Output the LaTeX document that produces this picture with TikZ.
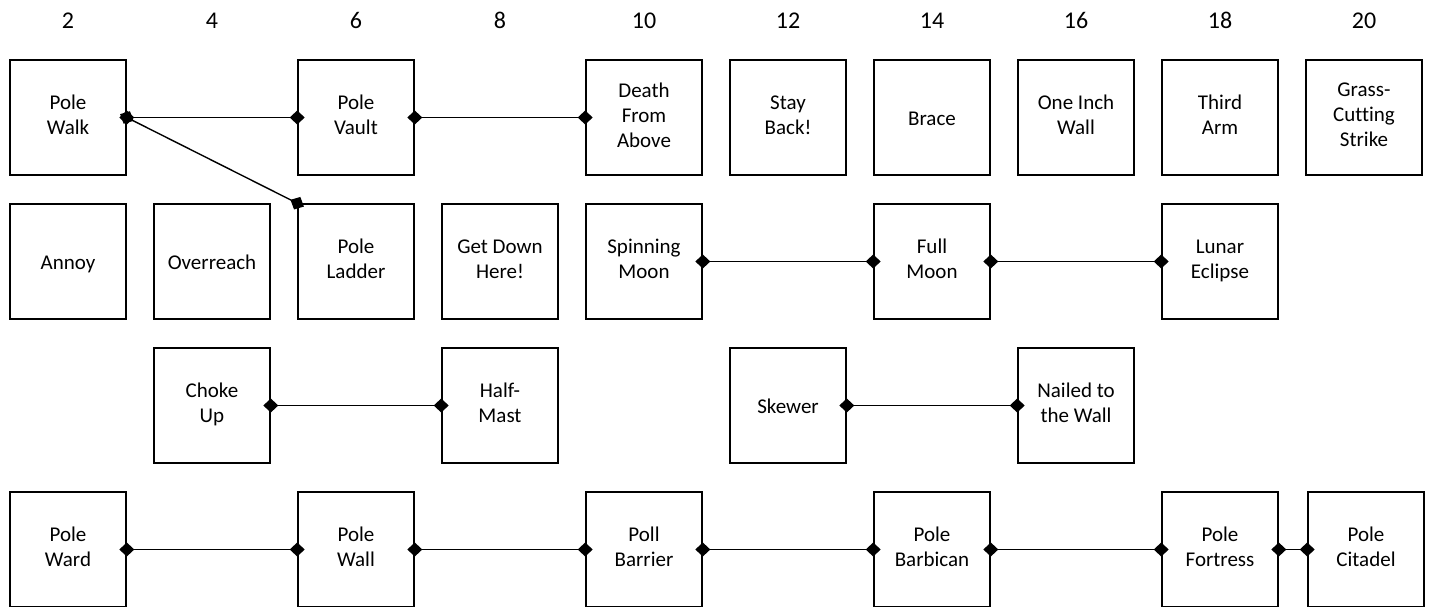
\documentclass[tikz,border=0pt]{standalone}
\usepackage{fontspec}
\setmainfont[Ligatures=NoCommon]{Carlito}
\usetikzlibrary{arrows.meta}
\tikzset{
  box/.style={draw=black, line width=1.6pt, minimum width=116pt, minimum height=115pt,
    inner sep=2pt, align=center, font=\fontsize{21}{25}\selectfont,
    execute at begin node={\rule{0pt}{20pt}}, execute at end node={\rule[-5pt]{0pt}{5pt}}},
  colnum/.style={font=\fontsize{24}{28}\selectfont, inner sep=0pt, anchor=base},
  link/.style={line width=1.4pt, {Diamond[length=15pt,width=14pt]}-{Diamond[length=15pt,width=14pt]},
    shorten <=-7.5pt, shorten >=-7.5pt}
}
\begin{document}
\begin{tikzpicture}[x=1pt,y=-1pt]
\useasboundingbox (0,0) rectangle (1429,607);
% column numbers
\foreach \k [count=\i from 0] in {2,4,...,20}
  \node[colnum, name=n\k] at (68+144*\i, 29) {\k};
% row 1
\node[box] (walk)   at (68,117.5)   {Pole\\Walk};
\node[box] (vault)  at (356,117.5)  {Pole\\Vault};
\node[box] (death)  at (644,117.5)  {Death\\From\\Above};
\node[box] (stay)   at (788,117.5)  {Stay\\Back!};
\node[box] (brace)  at (932,117.5)  {Brace};
\node[box] (inch)   at (1076,117.5) {One Inch\\Wall};
\node[box] (third)  at (1220,117.5) {Third\\Arm};
\node[box] (grass)  at (1364,117.5) {Grass-\\Cutting\\Strike};
% row 2
\node[box] (annoy)  at (68,261.5)   {Annoy};
\node[box] (over)   at (212,261.5)  {Overreach};
\node[box] (ladder) at (356,261.5)  {Pole\\Ladder};
\node[box] (getdown) at (500,261.5) {Get Down\\Here!};
\node[box] (spin)   at (644,261.5)  {Spinning\\Moon};
\node[box] (full)   at (932,261.5)  {Full\\Moon};
\node[box] (lunar)  at (1220,261.5) {Lunar\\Eclipse};
% row 3
\node[box] (choke)  at (212,405.5)  {Choke\\Up};
\node[box] (half)   at (500,405.5)  {Half-\\Mast};
\node[box] (skewer) at (788,405.5)  {Skewer};
\node[box] (nailed) at (1076,405.5) {Nailed to\\the Wall};
% row 4
\node[box] (ward)     at (68,549.5)   {Pole\\Ward};
\node[box] (wall)     at (356,549.5)  {Pole\\Wall};
\node[box] (barrier)  at (644,549.5)  {Poll\\Barrier};
\node[box] (barbican) at (932,549.5)  {Pole\\Barbican};
\node[box] (fortress) at (1220,549.5) {Pole\\Fortress};
\node[box] (citadel)  at (1366,549.5) {Pole\\Citadel};
% connectors
\draw[link] (walk.east) -- (vault.west);
\draw[link] (vault.east) -- (death.west);
\draw[link] (walk.east) -- (ladder.north west);
\draw[link] (spin.east) -- (full.west);
\draw[link] (full.east) -- (lunar.west);
\draw[link] (choke.east) -- (half.west);
\draw[link] (skewer.east) -- (nailed.west);
\draw[link] (ward.east) -- (wall.west);
\draw[link] (wall.east) -- (barrier.west);
\draw[link] (barrier.east) -- (barbican.west);
\draw[link] (barbican.east) -- (fortress.west);
\draw[link] (fortress.east) -- (citadel.west);
\end{tikzpicture}
\end{document}
